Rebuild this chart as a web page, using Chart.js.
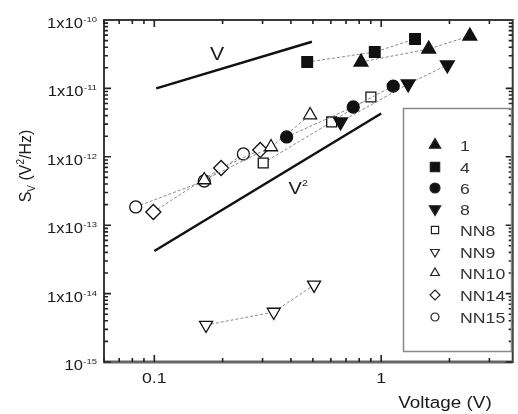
<!DOCTYPE html>
<html>
<head>
<meta charset="utf-8">
<script src="https://cdn.jsdelivr.net/npm/chart.js@4/dist/chart.umd.min.js"></script>
<style>
  html, body { margin: 0; padding: 0; background: #fff; overflow: hidden; }
  canvas { display: block; }
</style>
</head>
<body>
<canvas id="noiseChart" width="522" height="414"></canvas>
<script>
// values: voltage (V) and S_V (V^2/Hz)
const s1V = [0.815, 1.62, 2.46];
const s1S = [2.43e-11, 3.77e-11, 5.84e-11];
const s4V = [0.472, 0.937, 1.41];
const s4S = [2.43e-11, 3.40e-11, 5.28e-11];
const s6V = [0.383, 0.753, 1.13];
const s6S = [1.95e-12, 5.35e-12, 1.08e-11];
const s8V = [0.662, 1.315, 1.957];
const s8S = [3.23e-12, 1.16e-11, 2.20e-11];
const nn8V = [0.302, 0.605, 0.901];
const nn8S = [8.11e-13, 3.23e-12, 7.48e-12];
const nn9V = [0.169, 0.336, 0.506];
const nn9S = [3.47e-15, 5.38e-15, 1.34e-14];
const nn10V = [0.166, 0.327, 0.486];
const nn10S = [4.58e-13, 1.39e-12, 4.08e-12];
const nn14V = [0.099, 0.197, 0.293];
const nn14S = [1.56e-13, 6.86e-13, 1.26e-12];
const nn15V = [0.0828, 0.166, 0.247];
const nn15S = [1.85e-13, 4.43e-13, 1.10e-12];

// guide lines for slope 1 and slope 2
const slopeVx = [0.102, 0.495];
const slopeVy = [1.0e-11, 4.8e-11];
const slopeV2x = [0.1, 1.0];
const slopeV2y = [4.2e-14, 4.3e-12];

// tick labels
const xTickVals = [0.1, 1];
const xTickText = ['0.1', '1'];
const yTickVals = [1e-10, 1e-11, 1e-12, 1e-13, 1e-14, 1e-15];
const yTickBase = ['1x10', '1x10', '1x10', '1x10', '1x10', '10'];
const yTickExp = ['-10', '-11', '-12', '-13', '-14', '-15'];

const pts = (xs, ys) => xs.map((x, i) => ({ x: x, y: ys[i] }));

const series = [
  { label: '1', xs: s1V, ys: s1S, style: 'triangle', rot: 0, filled: true, r: 8 },
  { label: '4', xs: s4V, ys: s4S, style: 'rect', rot: 0, filled: true, r: 7.5 },
  { label: '6', xs: s6V, ys: s6S, style: 'circle', rot: 0, filled: true, r: 6 },
  { label: '8', xs: s8V, ys: s8S, style: 'triangle', rot: 180, filled: true, r: 8 },
  { label: 'NN8', xs: nn8V, ys: nn8S, style: 'rect', rot: 0, filled: false, r: 7 },
  { label: 'NN9', xs: nn9V, ys: nn9S, style: 'triangle', rot: 180, filled: false, r: 7.5 },
  { label: 'NN10', xs: nn10V, ys: nn10S, style: 'triangle', rot: 0, filled: false, r: 7.5 },
  { label: 'NN14', xs: nn14V, ys: nn14S, style: 'rectRot', rot: 0, filled: false, r: 7.5 },
  { label: 'NN15', xs: nn15V, ys: nn15S, style: 'circle', rot: 0, filled: false, r: 6 }
];

const datasets = series.map(s => ({
  label: s.label,
  data: pts(s.xs, s.ys),
  showLine: true,
  borderColor: '#8a8a8a',
  borderWidth: 1,
  borderDash: [3, 2],
  pointStyle: s.style,
  rotation: s.rot,
  pointRadius: s.r,
  pointBorderWidth: 1.3,
  pointBorderColor: '#111',
  pointBackgroundColor: s.filled ? '#111' : '#fff'
}));

datasets.push(
  { label: 'V', data: pts(slopeVx, slopeVy), showLine: true, borderColor: '#111', borderWidth: 2.5, pointRadius: 0 },
  { label: 'V2', data: pts(slopeV2x, slopeV2y), showLine: true, borderColor: '#111', borderWidth: 2.5, pointRadius: 0 }
);

const FONT = '"Liberation Sans", Arial, sans-serif';
const SX = 1.18; // the original figure is stretched sideways

function wideText(ctx, txt, x, y, size, align) {
  ctx.save();
  ctx.font = size + 'px ' + FONT;
  ctx.translate(x, y);
  ctx.scale(SX, 1);
  ctx.textAlign = align || 'left';
  ctx.fillText(txt, 0, 0);
  ctx.restore();
  ctx.font = size + 'px ' + FONT;
  return ctx.measureText(txt).width * SX;
}

function textW(ctx, txt, size) {
  ctx.font = size + 'px ' + FONT;
  return ctx.measureText(txt).width * SX;
}

function mark(ctx, s, x, y, r) {
  ctx.save();
  ctx.translate(x, y);
  ctx.rotate(s.rot * Math.PI / 180);
  ctx.beginPath();
  if (s.style === 'circle') {
    ctx.arc(0, 0, r, 0, Math.PI * 2);
  } else if (s.style === 'rect') {
    ctx.rect(-r * 0.72, -r * 0.72, r * 1.44, r * 1.44);
  } else if (s.style === 'rectRot') {
    ctx.moveTo(0, -r); ctx.lineTo(r, 0); ctx.lineTo(0, r); ctx.lineTo(-r, 0); ctx.closePath();
  } else {
    ctx.moveTo(0, -r); ctx.lineTo(r * 0.87, r * 0.5); ctx.lineTo(-r * 0.87, r * 0.5); ctx.closePath();
  }
  ctx.fillStyle = s.filled ? '#111' : '#fff';
  ctx.fill();
  ctx.lineWidth = 1.2;
  ctx.strokeStyle = '#222';
  ctx.stroke();
  ctx.restore();
}

const decor = {
  id: 'decor',
  afterDraw(chart) {
    const ctx = chart.ctx;
    const xs = chart.scales.x, ys = chart.scales.y;
    const a = chart.chartArea;
    ctx.save();

    // frame
    ctx.strokeStyle = '#3a3a3a';
    ctx.lineWidth = 2;
    ctx.strokeRect(a.left, a.top, a.right - a.left, a.bottom - a.top);
    ctx.lineWidth = 3;
    ctx.strokeStyle = '#666';
    ctx.beginPath(); ctx.moveTo(a.left - 1, a.bottom); ctx.lineTo(a.right, a.bottom); ctx.stroke();

    // inward ticks
    ctx.lineWidth = 1.6;
    ctx.strokeStyle = '#222';
    for (let e = -2; e <= 0; e++) {
      for (let m = 1; m <= 9; m++) {
        const v = m * Math.pow(10, e);
        if (v < xs.min || v > xs.max) continue;
        const px = xs.getPixelForValue(v);
        const len = m === 1 ? 7 : 4;
        ctx.beginPath();
        ctx.moveTo(px, a.bottom); ctx.lineTo(px, a.bottom - len);
        ctx.moveTo(px, a.top); ctx.lineTo(px, a.top + len);
        ctx.stroke();
      }
    }
    for (let e = -15; e < -10; e++) {
      for (let m = 1; m <= 9; m++) {
        const v = m * Math.pow(10, e);
        const py = ys.getPixelForValue(v);
        const len = m === 1 ? 7 : 4;
        ctx.beginPath();
        ctx.moveTo(a.left, py); ctx.lineTo(a.left + len, py);
        ctx.moveTo(a.right, py); ctx.lineTo(a.right - len, py);
        ctx.stroke();
      }
    }

    ctx.fillStyle = '#1a1a1a';
    ctx.textBaseline = 'alphabetic';

    // y tick labels with exponents
    yTickVals.forEach((v, i) => {
      const py = ys.getPixelForValue(v);
      const wSup = textW(ctx, yTickExp[i], 8);
      const wBase = textW(ctx, yTickBase[i], 14);
      const right = 97;
      wideText(ctx, yTickBase[i], right - wSup - wBase - 0.5, py + 8, 14, 'left');
      wideText(ctx, yTickExp[i], right - wSup, py + 2, 8, 'left');
    });

    // x tick labels
    xTickVals.forEach((v, i) => {
      wideText(ctx, xTickText[i], xs.getPixelForValue(v), 383, 15, 'center');
    });

    // axis titles
    wideText(ctx, 'Voltage (V)', 445, 408, 16, 'center');

    ctx.save();
    ctx.translate(31, 166);
    ctx.rotate(-Math.PI / 2);
    const parts = [
      { t: 'S', s: 16, dy: 0 },
      { t: 'V', s: 10, dy: 4 },
      { t: ' (V', s: 16, dy: 0 },
      { t: '2', s: 10, dy: -7 },
      { t: '/Hz)', s: 16, dy: 0 }
    ];
    let total = 0;
    parts.forEach(p => { ctx.font = p.s + 'px ' + FONT; p.w = ctx.measureText(p.t).width; total += p.w; });
    let cx = -total / 2;
    parts.forEach(p => {
      ctx.font = p.s + 'px ' + FONT;
      ctx.fillText(p.t, cx, p.dy);
      cx += p.w;
    });
    ctx.restore();

    // slope labels
    wideText(ctx, 'V', xs.getPixelForValue(0.189), ys.getPixelForValue(3.3e-11) + 7, 18, 'center');
    const v2x = xs.getPixelForValue(0.415), v2y = ys.getPixelForValue(3.63e-13) + 7;
    const wV = wideText(ctx, 'V', v2x - 6, v2y, 17, 'left');
    wideText(ctx, '2', v2x - 6 + wV, v2y - 8, 9, 'left');

    // legend box
    ctx.strokeStyle = '#888';
    ctx.lineWidth = 1.5;
    ctx.strokeRect(403.5, 108.5, 108, 243);
    const legY = [145, 167, 188, 209, 230, 252, 273, 295, 317];
    series.forEach((s, i) => {
      const r = s.filled ? (s.style === 'circle' ? 5 : 6.5) : (s.style === 'circle' ? 4 : 5);
      mark(ctx, s, 435, legY[i], r);
      ctx.fillStyle = '#333';
      wideText(ctx, s.label, 460, legY[i] + 6, 15, 'left');
    });

    ctx.restore();
  }
};

new Chart(document.getElementById('noiseChart'), {
  type: 'scatter',
  data: { datasets: datasets },
  options: {
    responsive: false,
    animation: false,
    devicePixelRatio: 1,
    layout: { padding: { top: 20, right: 3, left: 0, bottom: 0 } },
    plugins: { legend: { display: false }, tooltip: { enabled: false } },
    scales: {
      x: {
        type: 'logarithmic', min: 0.06, max: 3.8,
        ticks: { display: false }, grid: { display: false }, border: { display: false },
        afterFit(s) { s.height = 52; }
      },
      y: {
        type: 'logarithmic', min: 1e-15, max: 1e-10,
        ticks: { display: false }, grid: { display: false }, border: { display: false },
        afterFit(s) { s.width = 104; }
      }
    }
  },
  plugins: [decor]
});
</script>
</body>
</html>
